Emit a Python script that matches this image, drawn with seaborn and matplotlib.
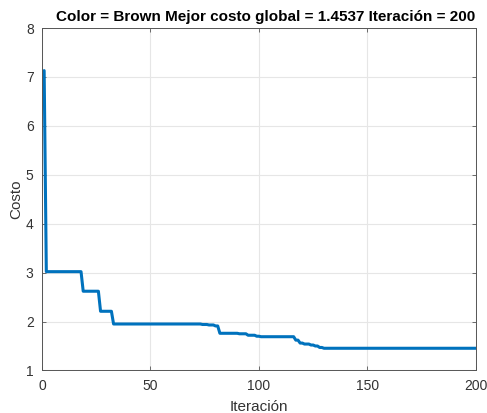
import numpy as np
import pandas as pd
import matplotlib
matplotlib.use("Agg")
import matplotlib.pyplot as plt
import seaborn as sns

# Breakpoints: iteration at which the best cost changes, and new cost
change_iter = [1, 2, 19, 27, 33, 74, 77, 80, 82, 91, 95, 99, 101, 117, 119, 121, 124, 126, 128, 130]
change_cost = [7.13, 3.02, 2.62, 2.21, 1.95, 1.94, 1.93, 1.91, 1.76, 1.75, 1.72, 1.70, 1.69,
               1.62, 1.56, 1.54, 1.52, 1.50, 1.47, 1.4537]
n_iter = 200

iters = np.arange(1, n_iter + 1)
s = pd.Series(np.nan, index=iters)
s.loc[change_iter] = change_cost
s = s.ffill()
df = pd.DataFrame({"Iteración": iters, "Costo": s.values})

sns.set_theme(style="white")
plt.rcParams["font.family"] = ["Liberation Sans", "DejaVu Sans"]

fig = plt.figure(figsize=(4.87, 4.13), dpi=100)
ax = fig.add_axes([0.0862, 0.103, 0.891, 0.829])
sns.lineplot(data=df, x="Iteración", y="Costo", ax=ax, color="#0072BD", linewidth=2.2)

ax.set_xlim(0, 200)
ax.set_ylim(1, 8)
ax.set_xticks([0, 50, 100, 150, 200])
ax.set_yticks(range(1, 9))
ax.grid(True, color="#e6e6e6", linewidth=0.8)
ax.set_axisbelow(True)
for sp in ax.spines.values():
    sp.set_color("#555555")
    sp.set_linewidth(0.7)
ax.tick_params(direction="in", length=3, width=0.6, colors="#555555", labelcolor="#333333",
               labelsize=10, top=True, right=True, bottom=True, left=True, pad=6)
ax.set_xlabel("Iteración", fontsize=11, color="#333333", labelpad=5)
ax.set_ylabel("Costo", fontsize=11, color="#333333", labelpad=2)
ax.set_title("Color = Brown Mejor costo global = 1.4537 Iteración = 200",
             fontsize=11, fontweight="bold", color="#000000", pad=5, x=0.515)

fig.savefig("out.png", dpi=100)
